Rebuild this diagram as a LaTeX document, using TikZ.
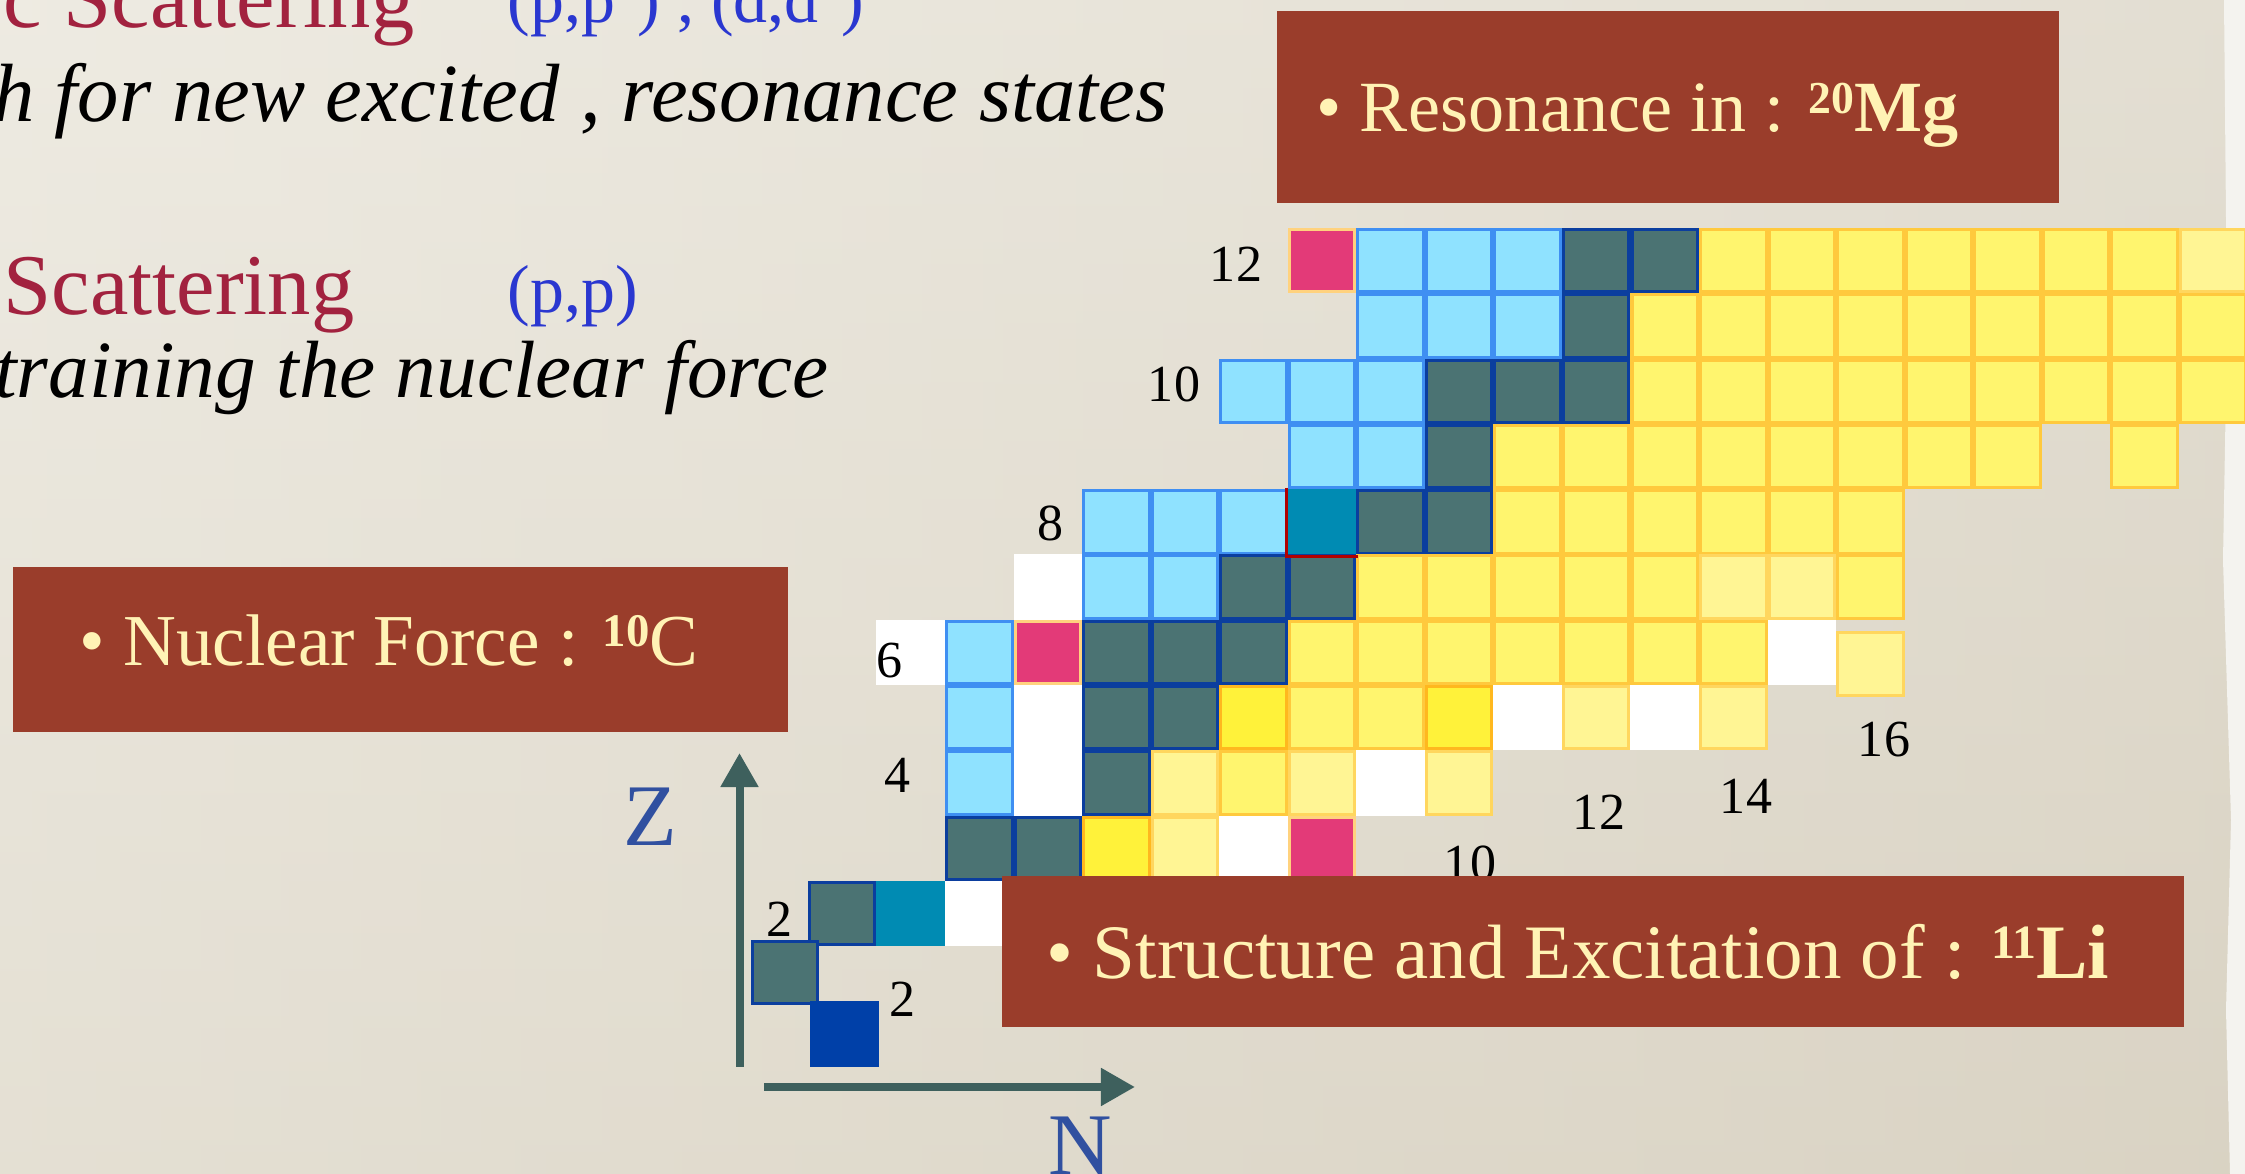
\documentclass[tikz,border=0pt]{standalone}
\usepackage{fontspec}
\setmainfont{Liberation Serif}
\usetikzlibrary{arrows.meta,positioning}

\definecolor{paperA}{HTML}{EEEBE2}
\definecolor{paperB}{HTML}{DDD7C8}
\definecolor{paperC}{HTML}{D6CFBF}
\definecolor{paperEdge}{HTML}{F4F3EF}
\definecolor{nucblue}{HTML}{8FE2FF}
\definecolor{nucblueline}{HTML}{3F8FF2}
\definecolor{nucdark}{HTML}{4B7373}
\definecolor{nucdarkline}{HTML}{0B3E9E}
\definecolor{nucyel}{HTML}{FFF56E}
\definecolor{nucyelline}{HTML}{FFC93D}
\definecolor{nucpale}{HTML}{FFF594}
\definecolor{nucpaleline}{HTML}{FFD65E}
\definecolor{nucbright}{HTML}{FFF23A}
\definecolor{nucorange}{HTML}{FFB81E}
\definecolor{nucpink}{HTML}{E33A78}
\definecolor{nucpinkline}{HTML}{FFD27E}
\definecolor{nucteal}{HTML}{008BB3}
\definecolor{nucneutron}{HTML}{0040A8}
\definecolor{boxbrown}{HTML}{9A3D2B}
\definecolor{cream}{HTML}{FFF3B5}
\definecolor{titlered}{HTML}{A2223F}
\definecolor{reacblue}{HTML}{2A37D0}
\definecolor{axisgreen}{HTML}{3E605D}
\definecolor{axisblue}{HTML}{3050A0}

\newcommand{\massno}[2]{\raisebox{0.26em}{\fontsize{#1}{#1}\selectfont\bfseries #2}}

\begin{document}
\begin{tikzpicture}[x=0.01cm, y=-0.01cm,
  cell/.style={rectangle, inner sep=0pt, minimum width=0.655cm, minimum height=0.623cm, line width=0.03cm},
  bluecell/.style={cell, fill=nucblue, draw=nucblueline},
  darkcell/.style={cell, fill=nucdark, draw=nucdarkline},
  yelcell/.style={cell, fill=nucyel, draw=nucyelline},
  palecell/.style={cell, fill=nucpale, draw=nucpaleline},
  brightcell/.style={cell, fill=nucbright, draw=nucorange},
  pinkcell/.style={cell, fill=nucpink, draw=nucpinkline},
  whitecell/.style={cell, fill=white, minimum width=0.685cm, minimum height=0.653cm},
  tealcell/.style={whitecell, fill=nucteal},
  neutroncell/.style={whitecell, fill=nucneutron},
  numlabel/.style={font=\fontsize{14.8}{16}\selectfont, anchor=base, inner sep=0pt},
  axislabel/.style={font=\fontsize{25}{28}\selectfont, text=axisblue, anchor=base, inner sep=0pt},
  infobox/.style={rectangle, fill=boxbrown, inner sep=0pt},
  boxtext/.style={text=cream, anchor=base west, inner sep=0pt},
  titletext/.style={font=\fontsize{24.6}{28}\selectfont, text=titlered, anchor=base east, inner sep=0pt},
  reactext/.style={font=\fontsize{19.3}{22}\selectfont, text=reacblue, anchor=base west, inner sep=0pt},
  subtext/.style={font=\fontsize{23.1}{27}\selectfont\itshape, anchor=base east, inner sep=0pt},
  axis/.style={draw=axisgreen, line width=0.08cm, -{Triangle[length=0.34cm, width=0.36cm]}}]
\useasboundingbox (0,0) rectangle (2245,1174);
\clip (0,0) rectangle (2245,1174);
\shade[top color=paperA, bottom color=paperB] (0,0) rectangle (2245,1174);
\shade[left color=paperA, right color=paperC, opacity=0.45] (0,0) rectangle (2245,1174);
\fill[paperEdge] (2224,0) -- (2245,0) -- (2245,1174) -- (2230,1174) -- (2226,1010)
  -- (2231,820) -- (2223,560) -- (2227,330) -- cycle;

\node[titletext] (ttlA) at (415,28) {c Scattering};
\node[reactext] (reacA) at (507,23) {(p,p´) , (d,d´)};
\node[subtext, font=\fontsize{23.5}{27}\selectfont\itshape] (lineA) at (1168,122) {h for new excited , resonance states};
\node[titletext] (ttlB) at (355,315) {Scattering};
\node[reactext] (reacB) at (507,313) {(p,p)};
\node[subtext] (lineB) at (829,398) {training the nuclear force};

\foreach \z/\st/\ns in {
  12/pinkcell/{8}, 12/bluecell/{9,10,11}, 12/darkcell/{12,13},
  12/yelcell/{14,15,16,17,18,19,20}, 12/palecell/{21},
  11/bluecell/{9,10,11}, 11/darkcell/{12}, 11/yelcell/{13,14,15,16,17,18,19,20,21},
  10/bluecell/{7,8,9}, 10/darkcell/{10,11,12}, 10/yelcell/{13,14,15,16,17,18,19,20,21},
  9/bluecell/{8,9}, 9/darkcell/{10}, 9/yelcell/{11,12,13,14,15,16,17,18,20},
  8/bluecell/{5,6,7}, 8/tealcell/{8}, 8/darkcell/{9,10}, 8/yelcell/{11,12,13,14,15,16},
  7/whitecell/{4}, 7/bluecell/{5,6}, 7/darkcell/{7,8}, 7/yelcell/{9,10,11,12,13,16},
  7/palecell/{14,15},
  6/whitecell/{2,15}, 6/bluecell/{3}, 6/pinkcell/{4}, 6/darkcell/{5,6,7},
  6/yelcell/{8,9,10,11,12,13,14},
  5/bluecell/{3}, 5/whitecell/{4,11,13}, 5/darkcell/{5,6}, 5/brightcell/{7,10},
  5/yelcell/{8,9}, 5/palecell/{12,14},
  4/bluecell/{3}, 4/whitecell/{4,9}, 4/darkcell/{5}, 4/palecell/{6,8,10}, 4/yelcell/{7},
  3/darkcell/{3,4}, 3/brightcell/{5}, 3/palecell/{6}, 3/whitecell/{7}, 3/pinkcell/{8},
  2/darkcell/{1}, 2/tealcell/{2}, 2/whitecell/{3}}
  \foreach \n in \ns
    \node[\st] (n\n-\z) at ({773.6+68.55*\n},{1044.25-65.3*\z}) {};
\node[palecell] (n16-6) at (1870.4,664) {};
\node[darkcell] (n0-1) at (785,972.5) {};
\node[neutroncell] (n1-0) at (844.5,1034) {};
\draw[draw=red!70!black, line width=0.03cm] (n8-8.north west) -- (n8-8.south west) -- (n8-8.south east);

\node[numlabel] (zl12) at (1236,282) {12};
\node[numlabel] (zl10) at (1174,402) {10};
\node[numlabel] (zl8) at (1051,541) {8};
\node[numlabel] (zl6) at (890,678) {6};
\node[numlabel] (zl4) at (897,793) {4};
\node[numlabel] (zl2) at (780,937) {2};
\node[numlabel] (nl2) at (903,1017) {2};
\node[numlabel] (nl10) at (1470,881) {10};
\node[numlabel] (nl12) at (1599,830) {12};
\node[numlabel] (nl14) at (1746,814) {14};
\node[numlabel] (nl16) at (1884,757) {16};

\node[infobox, minimum width=7.81cm, minimum height=1.92cm] (boxMg) at (1668,107) {};
\node[boxtext, font=\fontsize{20.5}{24}\selectfont] (txtMg) at (1316,132)
  {\textbullet\ Resonance in : \massno{13}{20}\textbf{Mg}};
\node[infobox, minimum width=7.75cm, minimum height=1.65cm] (boxC) at (400.4,649.5) {};
\node[boxtext, font=\fontsize{20.8}{24}\selectfont] (txtC) at (79,666)
  {\textbullet\ Nuclear Force : \massno{13.3}{10}C};
\node[infobox, minimum width=11.82cm, minimum height=1.51cm] (boxLi) at (1593,951.5) {};
\node[boxtext, font=\fontsize{21.9}{26}\selectfont] (txtLi) at (1046,979)
  {\textbullet\ Structure and Excitation of : \massno{13.6}{11}\textbf{Li}};

\coordinate (zFoot) at (739.5,1067);
\coordinate (zTip) at (739.5,753);
\coordinate (nFoot) at (764,1087);
\coordinate (nTip) at (1135,1087);
\draw[axis] (zFoot) -- (zTip);
\draw[axis] (nFoot) -- (nTip);
\node[axislabel] (zLab) at (650,846) {Z};
\node[axislabel] (nLab) at (1080,1175) {N};
\end{tikzpicture}
\end{document}
